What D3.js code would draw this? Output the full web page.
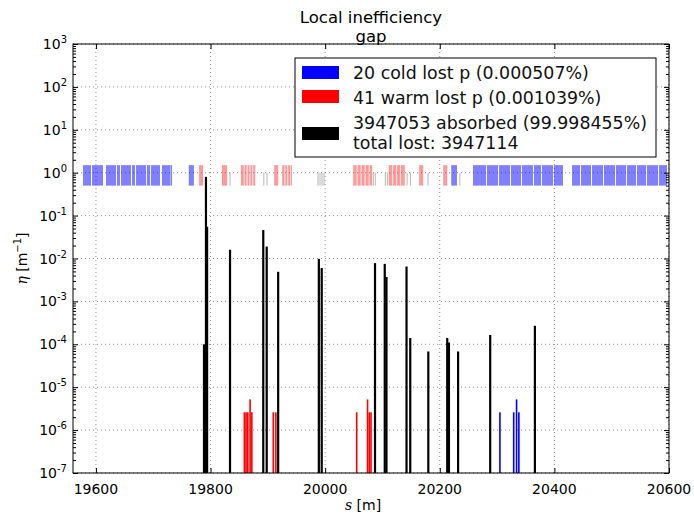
<!DOCTYPE html>
<html>
<head>
<meta charset="utf-8">
<script src="https://cdn.jsdelivr.net/npm/d3@7"></script>
<style>
  body { margin: 0; background: #fff; }
  svg { font-family: "DejaVu Sans", sans-serif; }
  .grid line { stroke: #000; stroke-opacity: 0.55; stroke-width: 0.8; stroke-dasharray: 1,3; }
  .axis path, .axis line { stroke: #000; }
</style>
</head>
<body>
<div id="chart"></div>
<script>

// loss positions s [m] and local inefficiency eta [1/m]
var absorbedS   = [19788.6, 19792, 19794, 19834, 19892, 19898, 19918, 19989, 19994, 20087,
                   20104, 20107, 20142, 20148.5, 20180, 20213, 20216, 20232, 20288, 20366];
var absorbedEta = [1e-4, 0.8, 0.055, 0.016, 0.046, 0.019, 0.0049, 0.0098, 0.006, 0.0078,
                   0.0075, 0.0037, 0.0065, 1.4e-4, 6.8e-5, 1.4e-4, 1.1e-4, 6.8e-5, 1.65e-4, 2.7e-4];

var warmS   = [19859, 19862, 19865, 19869, 19872, 19909.5, 19914, 20055, 20074, 20077, 20080];
var warmEta = [2.6e-6, 2.6e-6, 2.6e-6, 5.2e-6, 2.6e-6, 2.6e-6, 2.6e-6, 2.6e-6, 5.2e-6, 2.6e-6, 2.6e-6];

var coldS   = [20305, 20329, 20334, 20338];
var coldEta = [2.6e-6, 2.6e-6, 5.2e-6, 2.6e-6];

// aperture layout strip at eta ~ 1 : [start, end] in s
var coldElements = [[19577.5, 19591.4], [19593.2, 19612.4], [19617.6, 19635], [19636.8, 19642],
    [19643.8, 19661.2], [19663, 19668.2], [19670, 19687.4], [19689, 19694.4], [19696, 19711.8],
    [19715.3, 19729.3], [19730, 19732.8], [19762, 19771], [20220, 20230],
    [20258, 20280.7], [20282.4, 20301.6], [20303.4, 20322.6], [20324.3, 20341.8], [20343.5, 20362.7],
    [20364.4, 20376.7], [20378.4, 20397.6], [20399.3, 20415], [20430.8, 20444.7], [20446.5, 20463.9],
    [20465.7, 20484.9], [20486.6, 20505.8], [20507.5, 20525], [20526.7, 20542.4], [20544.2, 20559.9],
    [20561.6, 20580.8], [20582.6, 20596.5]];
var warmElements = [[19780, 19787], [19820, 19829], [19853, 19858], [19859.5, 19863], [19864.5, 19868],
    [19869.5, 19873], [19874.5, 19878], [19911, 19918], [19925, 19929], [19930.5, 19934],
    [19935.5, 19939], [19940, 19942], [20049, 20055], [20056.5, 20062], [20063.5, 20069],
    [20070.5, 20076], [20077.5, 20082], [20111, 20117], [20118.5, 20124], [20125.5, 20131],
    [20132.5, 20139], [20164, 20171], [20206, 20213]];
var otherElements = [19834, 19893, 19898.5, 19987.5, 19991, 19994.5, 19998, 20084, 20087.5,
    20105, 20108.5, 20143, 20149, 20179.5, 20235];

var legendLabels = ["20 cold lost p (0.000507%)", "41 warm lost p (0.001039%)",
                    "3947053 absorbed (99.998455%)", "total lost: 3947114"];
var xTicks = [19600, 19800, 20000, 20200, 20400, 20600];
var yExponents = [-7, -6, -5, -4, -3, -2, -1, 0, 1, 2, 3];

var W = 694, H = 514;
var margin = {top: 44, right: 25, bottom: 41, left: 73};
var width = W - margin.left - margin.right,
    height = H - margin.top - margin.bottom;

var svg = d3.select("#chart").append("svg")
    .attr("width", W)
    .attr("height", H);

svg.append("rect").attr("width", W).attr("height", H).attr("fill", "#fff");

var g = svg.append("g")
    .attr("transform", "translate(" + margin.left + "," + margin.top + ")");

var x = d3.scaleLinear().domain([19560, 20600]).range([0, width]);
var y = d3.scaleLog().domain([1e-7, 1e3]).range([height, 0]);

// grid
g.append("g").attr("class", "grid")
    .selectAll("line").data(xTicks).enter().append("line")
    .attr("x1", function(d){ return x(d); }).attr("x2", function(d){ return x(d); })
    .attr("y1", 0).attr("y2", height);
g.append("g").attr("class", "grid")
    .selectAll("line").data(yExponents).enter().append("line")
    .attr("x1", 0).attr("x2", width)
    .attr("y1", function(d){ return y(Math.pow(10, d)); })
    .attr("y2", function(d){ return y(Math.pow(10, d)); });

g.append("clipPath").attr("id", "clip")
    .append("rect").attr("width", width).attr("height", height);
var plot = g.append("g").attr("clip-path", "url(#clip)");

// element strip
function strip(data, color, lo, hi) {
    plot.append("g").selectAll("rect").data(data).enter().append("rect")
        .attr("x", function(d){ return x(d[0]); })
        .attr("width", function(d){ return Math.max(x(d[1]) - x(d[0]), 0.6); })
        .attr("y", y(hi))
        .attr("height", y(lo) - y(hi))
        .attr("fill", color)
        .attr("fill-opacity", 0.5);
}
strip(coldElements, "#0000ff", 0.5, 1.5);
strip(warmElements, "#ff3333", 0.5, 1.5);
plot.append("g").selectAll("rect").data(otherElements).enter().append("rect")
    .attr("x", function(d){ return x(d) - 0.5; })
    .attr("width", 1)
    .attr("y", y(1))
    .attr("height", y(0.5) - y(1))
    .attr("fill", "#999")
    .attr("fill-opacity", 0.7);

// loss bars
function bars(sArr, etaArr, color, w) {
    plot.append("g").selectAll("rect").data(sArr).enter().append("rect")
        .attr("x", function(d){ return x(d) - w / 2; })
        .attr("width", w)
        .attr("y", function(d, i){ return y(etaArr[i]); })
        .attr("height", function(d, i){ return height - y(etaArr[i]); })
        .attr("fill", color);
}
bars(absorbedS, absorbedEta, "#000", 2.2);
bars(warmS, warmEta, "#ff0000", 1.6);
bars(coldS, coldEta, "#0000ff", 1.6);

// axes (ticks inside on all four sides)
var minor = [];
yExponents.forEach(function(e){
    if (e < 3) for (var k = 2; k < 10; k++) minor.push(k * Math.pow(10, e));
});
var majorY = yExponents.map(function(e){ return Math.pow(10, e); });

g.append("g").attr("class", "axis")
    .attr("transform", "translate(0," + height + ")")
    .call(d3.axisBottom(x).tickValues(xTicks).tickSize(-5).tickFormat(""));
g.append("g").attr("class", "axis")
    .call(d3.axisTop(x).tickValues(xTicks).tickSize(-5).tickFormat(""));
g.append("g").attr("class", "axis")
    .call(d3.axisLeft(y).tickValues(majorY).tickSize(-5).tickFormat(""));
g.append("g").attr("class", "axis")
    .call(d3.axisLeft(y).tickValues(minor).tickSize(-3).tickFormat(""));
g.append("g").attr("class", "axis")
    .attr("transform", "translate(" + width + ",0)")
    .call(d3.axisRight(y).tickValues(majorY).tickSize(-5).tickFormat(""));
g.append("g").attr("class", "axis")
    .attr("transform", "translate(" + width + ",0)")
    .call(d3.axisRight(y).tickValues(minor).tickSize(-3).tickFormat(""));
g.selectAll(".axis .domain").remove();

g.append("rect")
    .attr("width", width).attr("height", height)
    .attr("fill", "none").attr("stroke", "#000").attr("stroke-width", 1);

// tick labels
g.append("g").selectAll("text").data(xTicks).enter().append("text")
    .attr("x", function(d){ return x(d); })
    .attr("y", height + 21)
    .attr("text-anchor", "middle")
    .attr("font-size", 14)
    .text(function(d){ return d; });

var yl = g.append("g").selectAll("text").data(yExponents).enter().append("text")
    .attr("x", -6)
    .attr("y", function(d){ return y(Math.pow(10, d)) + 5; })
    .attr("text-anchor", "end")
    .attr("font-size", 14);
yl.append("tspan").text("10");
yl.append("tspan").attr("font-size", 10).attr("dy", -6)
    .text(function(d){ return d; });

// axis labels
g.append("text")
    .attr("x", width / 2 - 8)
    .attr("y", height + 37)
    .attr("text-anchor", "middle")
    .attr("font-size", 14)
    .html('<tspan font-family="DejaVu Serif" font-style="italic">s</tspan> [m]');

var ylab = g.append("text")
    .attr("transform", "translate(" + (-46) + "," + (height / 2) + ") rotate(-90)")
    .attr("text-anchor", "middle")
    .attr("font-size", 14);
ylab.append("tspan").attr("font-family", "DejaVu Serif").attr("font-style", "italic").text("\u03b7");
ylab.append("tspan").text(" [m");
ylab.append("tspan").attr("font-size", 10).attr("dy", -6).text("\u22121");
ylab.append("tspan").attr("dy", 6).text("]");

// title
svg.append("text").attr("x", margin.left + width / 2).attr("y", 23)
    .attr("text-anchor", "middle").attr("font-size", 16.5).text("Local inefficiency");
svg.append("text").attr("x", margin.left + width / 2).attr("y", 42)
    .attr("text-anchor", "middle").attr("font-size", 16.5).text("gap");

// legend
var lg = svg.append("g").attr("transform", "translate(295,58)");
lg.append("rect").attr("width", 361).attr("height", 99)
    .attr("fill", "#fff").attr("stroke", "#000").attr("stroke-width", 1);
var legendColors = ["#0000ff", "#ff0000", "#000"];
var patchY = [8, 32, 69];
legendColors.forEach(function(c, i){
    lg.append("rect").attr("x", 7).attr("y", patchY[i])
        .attr("width", 37).attr("height", 13).attr("fill", c);
});
var textY = [21, 46, 71, 91];
legendLabels.forEach(function(t, i){
    lg.append("text").attr("x", 58).attr("y", textY[i])
        .attr("font-size", 17.4).attr("fill", "#111").text(t);
});

</script>
</body>
</html>
